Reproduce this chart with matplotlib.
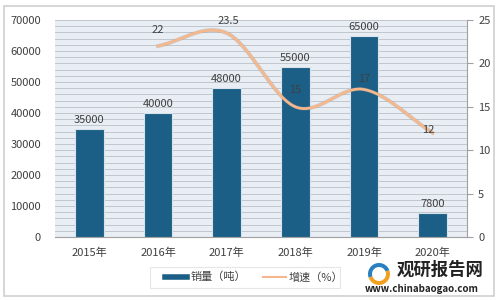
import numpy as np
import matplotlib
matplotlib.use("Agg")
import matplotlib.pyplot as plt
from matplotlib.patches import Rectangle, Wedge

plt.rcParams['font.family'] = ['Noto Sans CJK SC', 'DejaVu Sans']

years = ["2015年", "2016年", "2017年", "2018年", "2019年", "2020年"]
sales = [35000, 40000, 48000, 55000, 65000, 7800]
growth_years_idx = [1, 2, 3, 4, 5]
growth = [22, 23.5, 15, 17, 12]

bar_color = "#1C5F86"
line_color = "#F5B78C"
txt = "#404040"

fig = plt.figure(figsize=(4.99, 3.0), dpi=100)
fig.patch.set_facecolor("white")
fig.add_artist(Rectangle((4/499, 4/300), 1-9/499, 1-10/300, transform=fig.transFigure,
                         facecolor="white", edgecolor="#D0D0D0", lw=1.2, zorder=0))

ax = fig.add_axes([55/499, 1-237/300, (467-55)/499, (237-20)/300])
ax.set_facecolor("#E9EEF4")
x = np.arange(len(years))
ax.set_xlim(-0.5, len(years)-0.5)
ax.set_ylim(0, 70000)
for yv in np.arange(0, 70001, 2000):
    ax.axhline(yv, color="#BAC0C8", lw=0.6, zorder=1)
ax.bar(x, sales, width=0.42, color=bar_color, edgecolor="#D8E2EC", lw=0.8, zorder=3)
for xi, v in zip(x, sales):
    ax.text(xi, v + 1200, f"{v}", ha="center", va="bottom", fontsize=8, color=txt, zorder=6)

ax.set_yticks(np.arange(0, 70001, 10000))
ax.set_yticklabels([str(int(v)) for v in np.arange(0, 70001, 10000)], fontsize=8, color=txt)
ax.set_xticks(x)
ax.set_xticklabels(years, fontsize=8, color=txt)
ax.tick_params(axis="y", length=0, pad=10)
ax.tick_params(axis="x", length=0, pad=8)
for s in ["left", "top", "right"]:
    ax.spines[s].set_visible(False)
ax.spines["bottom"].set_color("#A0A0A0")

ax2 = ax.twinx()
ax2.set_ylim(0, 25)
ax2.set_yticks(np.arange(0, 26, 5))
ax2.set_yticklabels([str(v) for v in range(0, 26, 5)], fontsize=8, color=txt)
ax2.tick_params(axis="y", length=4, color="#A0A0A0", pad=4)
for s in ["left", "top", "bottom"]:
    ax2.spines[s].set_visible(False)
ax2.spines["right"].set_color("#A0A0A0")

# smooth line (Catmull-Rom)
px = np.array(growth_years_idx, dtype=float)
py = np.array(growth, dtype=float)
P = np.column_stack([px, py])
P_ext = np.vstack([P[0] - (P[1]-P[0]), P, P[-1] + (P[-1]-P[-2])])
curve = []
for i in range(1, len(P_ext)-2):
    p0, p1, p2, p3 = P_ext[i-1], P_ext[i], P_ext[i+1], P_ext[i+2]
    t = np.linspace(0, 1, 40)[:, None]
    c = 0.5*((2*p1) + (-p0+p2)*t + (2*p0-5*p1+4*p2-p3)*t**2 + (-p0+3*p1-3*p2+p3)*t**3)
    curve.append(c)
curve = np.vstack(curve)
ax2.plot(curve[:, 0], curve[:, 1], color="#8A8A8A", lw=2.8, alpha=0.35, zorder=4)
ax2.plot(curve[:, 0], curve[:, 1], color=line_color, lw=2, zorder=5)
# label centers (value units on right axis)
label_centers = [23.8, 24.9, 16.9, 18.2, 12.3]
label_dx = [0, 0.03, 0, 0, -0.07]
for xi, v, cy, dx in zip(px, py, label_centers, label_dx):
    ax2.text(xi + dx, cy, f"{v:g}", ha="center", va="center",
             fontsize=8, color=txt, zorder=6)

# legend box
fig.add_artist(Rectangle((150/499, 1-288/300), 190/499, 21/300, transform=fig.transFigure,
                         facecolor="white", edgecolor="#E6E6E6", lw=0.8, zorder=2))
fig.add_artist(plt.Line2D([165/499, 187/499], [1-277/300]*2, transform=fig.transFigure,
                          color=bar_color, lw=4, zorder=3))
fig.text(191/499, 1-277/300, "销量（吨）", fontsize=8, color=txt, va="center", ha="left")
fig.add_artist(plt.Line2D([263/499, 286/499], [1-277/300]*2, transform=fig.transFigure,
                          color=line_color, lw=1.5, zorder=3))
fig.text(289/499, 1-277/300, "增速（%）", fontsize=8, color=txt, va="center", ha="left")

# watermark
lx, ly = 379/499, 1-274/300
fig.add_artist(Wedge((379, 300-274), 11, 20, 200, width=4, transform=None,
                     facecolor="#2A7FC0", edgecolor="none", zorder=3))
fig.add_artist(Wedge((379, 300-274), 11, 200, 380, width=4, transform=None,
                     facecolor="#F2A11F", edgecolor="none", zorder=3))
fig.text(397/499, 1-270/300, "观研报告网", fontsize=12.5, fontweight="bold", color="#222222",
         va="center", ha="left")
fig.text(365/499, 1-289/300, "www.chinabaogao.com", fontsize=7, fontweight="bold",
         color="#222222", va="center", ha="left")

fig.savefig("out.png", dpi=100)
